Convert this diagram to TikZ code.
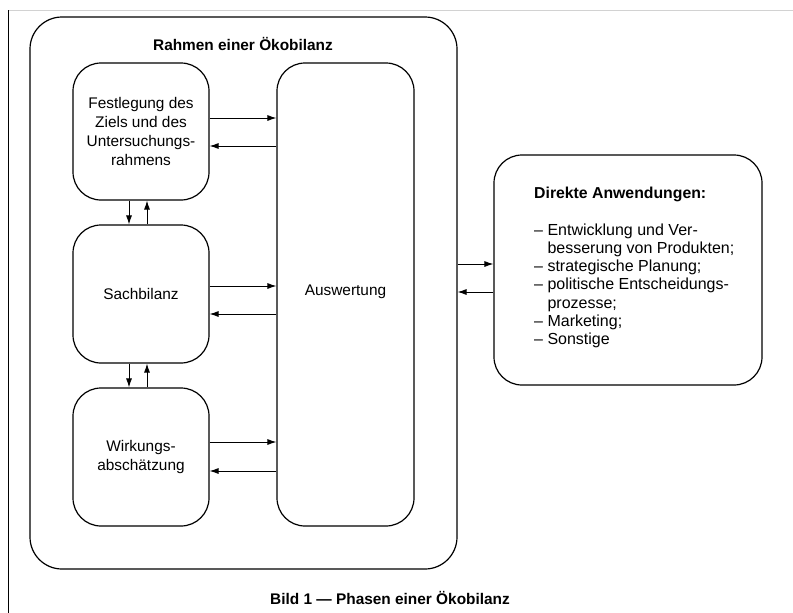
\documentclass[tikz,border=0pt]{standalone}
\usepackage{fontspec}
\setmainfont{Liberation Sans}
\usetikzlibrary{arrows.meta}
\begin{document}
\begin{tikzpicture}[x=1pt,y=-1pt,
  box/.style={draw,line width=1.2pt,rounded corners=28pt,inner sep=0pt,align=center,
    font=\fontsize{15.4}{19}\selectfont},
  arr/.style={line width=0.8pt,-{Latex[length=9pt,width=6pt]}},
  lbl/.style={inner sep=0pt,font=\fontsize{15.4}{19}\selectfont}]
\useasboundingbox (0,0) rectangle (793,613);
\draw[gray!35,line width=1pt] (8,10) coordinate (tl) -- (793,10) coordinate (tr);
\draw[line width=1pt] (8,10) coordinate (lt) -- (8,613) coordinate (lb);
\node[box,rounded corners=32pt,minimum width=427pt,minimum height=552pt] (outer) at (243.5,293) {};
\node[lbl,font=\bfseries\fontsize{15.4}{19}\selectfont] (title) at (243,44) {Rahmen einer Ökobilanz};
\node[box,minimum width=136pt,minimum height=137pt] (fest) at (141,131.5) {Festlegung des\\Ziels und des\\Untersuchungs-\\rahmens};
\node[box,minimum width=136pt,minimum height=138pt] (sach) at (141,294) {Sachbilanz};
\node[box,minimum width=136pt,minimum height=138pt] (wirk) at (141,457) {Wirkungs-\\abschätzung};
\node[box,minimum width=137pt,minimum height=463pt] (ausw) at (345.5,294.5) {};
\node[lbl] (awt) at (345.5,292) {Auswertung};
\node[box,minimum width=268pt,minimum height=230pt] (dir) at (628,270) {};
\node[lbl,anchor=base west,font=\bfseries\fontsize{15.8}{19}\selectfont] (dirh) at (534,198) {Direkte Anwendungen:};
\node[lbl,anchor=north west,align=left,font=\fontsize{16}{18.3}\selectfont] (dirt) at (534,223.3)
 {– Entwicklung und Ver-\\
  \phantom{– }besserung von Produkten;\\
  – strategische Planung;\\
  – politische Entscheidungs-\\
  \phantom{– }prozesse;\\
  – Marketing;\\
  – Sonstige};
% vertical arrows
\draw[arr] ([xshift=-12pt]fest.south) -- ([xshift=-12pt]sach.north);
\draw[arr] ([xshift=6pt]sach.north) -- ([xshift=6pt]fest.south);
\draw[arr] ([xshift=-12pt]sach.south) -- ([xshift=-12pt]wirk.north);
\draw[arr] ([xshift=6pt]wirk.north) -- ([xshift=6pt]sach.south);
% horizontal arrows
\draw[arr] (fest.east |- 0,118) -- (ausw.west |- 0,118);
\draw[arr] (ausw.west |- 0,146) -- (fest.east |- 0,146);
\draw[arr] (sach.east |- 0,286) -- (ausw.west |- 0,286);
\draw[arr] (ausw.west |- 0,314) -- (sach.east |- 0,314);
\draw[arr] (wirk.east |- 0,442) -- (ausw.west |- 0,442);
\draw[arr] (ausw.west |- 0,471) -- (wirk.east |- 0,471);
\draw[arr] (outer.east |- 0,264) -- (dir.west |- 0,264);
\draw[arr] (dir.west |- 0,292) -- (outer.east |- 0,292);
\node[lbl,font=\bfseries\fontsize{15.4}{19}\selectfont] (cap) at (390,598) {Bild 1 — Phasen einer Ökobilanz};
\end{tikzpicture}
\end{document}
